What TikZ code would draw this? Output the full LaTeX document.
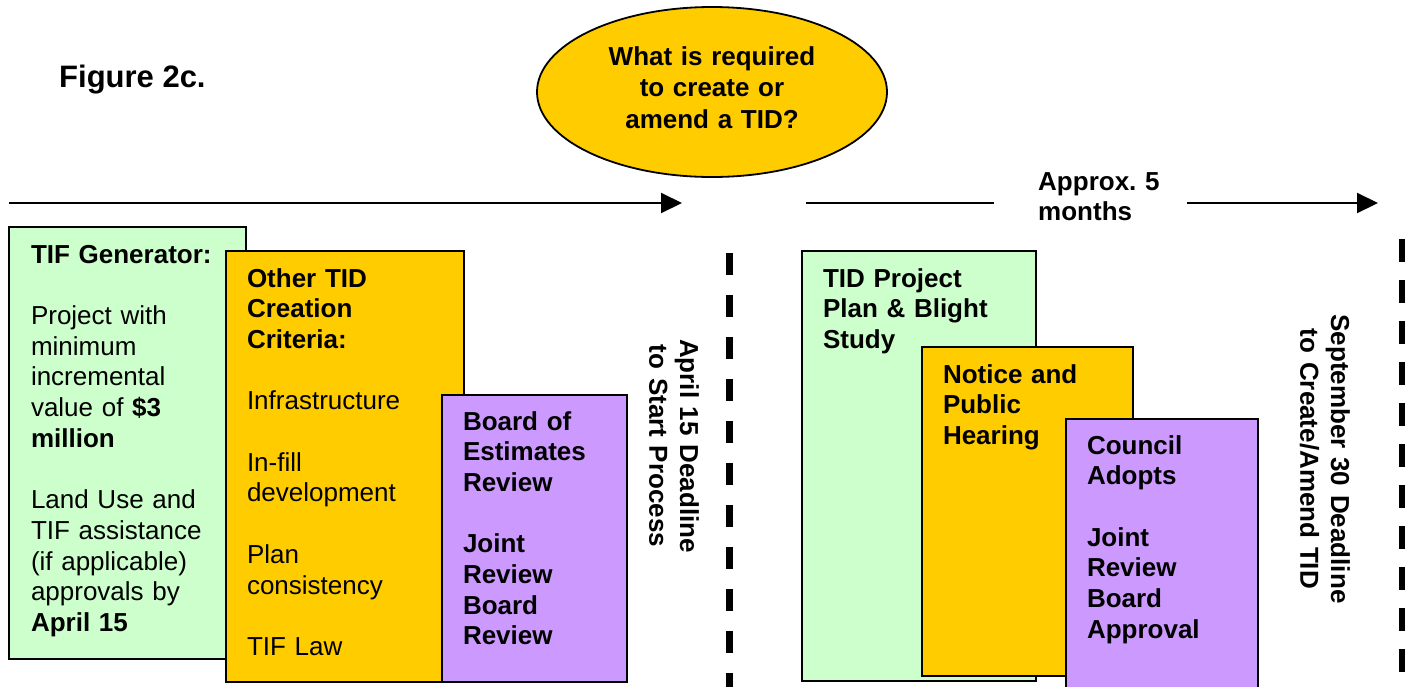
\documentclass[tikz,border=0pt]{standalone}
\usepackage{fontspec}
\setmainfont{Liberation Sans}
\usetikzlibrary{shapes.geometric,arrows.meta}
\definecolor{cgreen}{HTML}{CCFFCC}
\definecolor{corange}{HTML}{FFCC00}
\definecolor{cpurple}{HTML}{CC99FF}
\frenchspacing
\begin{document}
\begin{tikzpicture}[x=1pt,y=-1pt,
  box/.style={draw=black,line width=2pt,anchor=north west,inner sep=0pt,outer sep=0pt},
  boxtext/.style={anchor=base west,inner sep=0pt,outer sep=0pt,text width=205pt,align=left,
    font=\fontsize{26}{30.7}\selectfont\frenchspacing},
  deadline/.style={rotate=-90,anchor=base,inner sep=0pt,outer sep=0pt,text width=330pt,align=center,
    font=\fontsize{26}{30.7}\selectfont\bfseries},
  dashline/.style={line width=6.5pt,dash pattern=on 22pt off 20pt},
  timeline/.style={line width=2pt},
  tiparrow/.style={line width=2pt,-{Triangle[length=21pt,width=20pt]}}]
\useasboundingbox (0,0) rectangle (1410,686);
\clip (0,0) rectangle (1410,686);
\fill[white] (0,0) rectangle (1410,686);

% title
\node[anchor=base west,inner sep=0pt,font=\fontsize{31}{37}\selectfont\bfseries\frenchspacing] (fig) at (59,87) {Figure 2c.};

% question ellipse
\node[ellipse,draw=black,line width=1.8pt,fill=corange,minimum width=350pt,minimum height=170pt,inner sep=0pt] (q) at (712,92) {};
\node[anchor=base,inner sep=0pt,text width=300pt,align=center,font=\fontsize{26}{31.5}\selectfont\bfseries] (qt) at (712,65) {What is required\\to create or\\amend a TID?};

% time lines
\coordinate (l1s) at (9,203);
\coordinate (l1e) at (682,203);
\coordinate (l2s) at (806,203);
\coordinate (l2e) at (994,203);
\coordinate (l3s) at (1187,203);
\coordinate (l3e) at (1378,203);
\draw[tiparrow] (l1s) -- (l1e);
\draw[timeline] (l2s) -- (l2e);
\draw[tiparrow] (l3s) -- (l3e);
\node[anchor=base west,inner sep=0pt,text width=150pt,align=left,font=\fontsize{26}{30.5}\selectfont\bfseries\frenchspacing] (ap) at (1038,190) {Approx. 5\\months};

% left group
\node[box,fill=cgreen,minimum width=237pt,minimum height=432pt] (g1) at (9,227) {};
\node[boxtext] (g1t) at (31,263) {\textbf{TIF Generator:}\\[30.7pt]Project with\\minimum\\incremental\\value of \textbf{\$3}\\\textbf{million}\\[30.7pt]Land Use and\\TIF assistance\\(if applicable)\\approvals by\\\textbf{April 15}};
\node[box,fill=corange,minimum width=238pt,minimum height=431pt] (o1) at (226,251) {};
\node[boxtext] (o1t) at (247,287) {\textbf{Other TID}\\\textbf{Creation}\\\textbf{Criteria:}\\[30.7pt]Infrastructure\\[30.7pt]In-fill\\development\\[30.7pt]Plan\\consistency\\[30.7pt]TIF Law};
\node[box,fill=cpurple,minimum width=185pt,minimum height=287pt] (p1) at (442,395) {};
\node[boxtext,font=\fontsize{26}{30.7}\selectfont\bfseries] (p1t) at (463,430) {Board of\\Estimates\\Review\\[30.7pt]Joint\\Review\\Board\\Review};

% right group
\node[box,fill=cgreen,minimum width=234pt,minimum height=430pt] (g2) at (802,251) {};
\node[boxtext,font=\fontsize{26}{30.7}\selectfont\bfseries] (g2t) at (823,287) {TID Project\\Plan \& Blight\\Study};
\node[box,fill=corange,minimum width=211pt,minimum height=329pt] (o2) at (922,347) {};
\node[boxtext,font=\fontsize{26}{30.7}\selectfont\bfseries] (o2t) at (943,383) {Notice and\\Public\\Hearing};
\node[box,fill=cpurple,minimum width=192pt,minimum height=280pt] (p2) at (1066,419) {};
\node[boxtext,font=\fontsize{26}{30.7}\selectfont\bfseries] (p2t) at (1087,454) {Council\\Adopts\\[30.7pt]Joint\\Review\\Board\\Approval};

% deadlines
\coordinate (d1s) at (729.5,253);
\coordinate (d1e) at (729.5,690);
\draw[dashline] (d1s) -- (d1e);
\node[deadline] (d1t) at (680,446) {April 15 Deadline\\to Start Process};
\coordinate (d2s) at (1402,239);
\coordinate (d2e) at (1402,690);
\draw[dashline,dash pattern=on 23pt off 18pt] (d2s) -- (d2e);
\node[deadline] (d2t) at (1331,459) {September 30 Deadline\\to Create/Amend TID};
\end{tikzpicture}
\end{document}
